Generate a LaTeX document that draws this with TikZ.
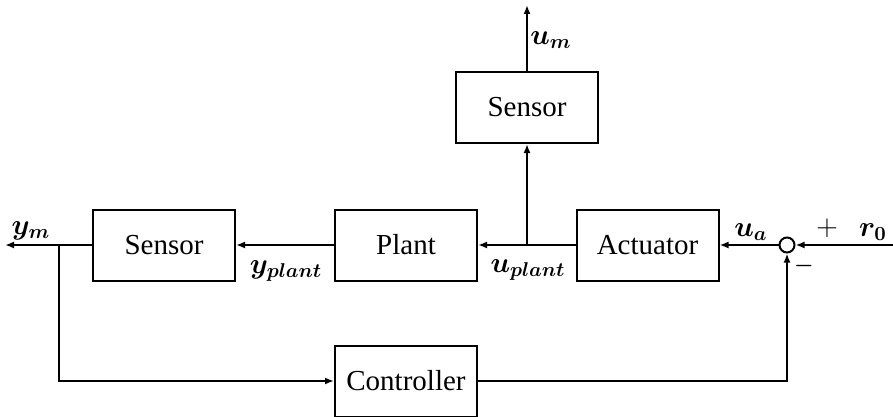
\documentclass[tikz,border=0pt]{standalone}
\usepackage{fontspec}
\setmainfont{Liberation Serif}
\usepackage{bm}
\usetikzlibrary{arrows.meta}
\begin{document}
\begin{tikzpicture}[x=0.5pt,y=-0.5pt,
  blk/.style={draw,line width=1pt,minimum width=71pt,minimum height=35.5pt,inner sep=0pt,font=\fontsize{14.5}{16}\selectfont},
  sig/.style={line width=1.1pt,-{Latex[length=4.5pt,width=3.5pt]}},
  lbl/.style={inner sep=0pt,font=\fontsize{14.4}{16}\selectfont}]
\useasboundingbox (0,0) rectangle (893,417);
\node[blk] (s1) at (164,245) {Sensor};
\node[blk] (pl) at (406,245) {Plant};
\node[blk] (ac) at (647.5,245) {Actuator};
\node[blk] (s2) at (527,107.5) {Sensor};
\node[blk] (ct) at (406,381) {Controller};
\node[draw,circle,line width=1pt,minimum size=7.5pt,inner sep=0pt] (sum) at (787,245) {};
\coordinate (yend) at (5,245);
\coordinate (bl) at (59,245);
\coordinate (bu) at (527,245);
\coordinate (uend) at (527,5);
\coordinate (rin) at (893,245);
\draw[sig] (rin) -- (sum);
\draw[sig] (sum) -- (ac);
\draw[sig] (ac) -- (pl);
\draw[sig] (bu) -- (s2);
\draw[sig] (s2) -- (uend);
\draw[sig] (pl) -- (s1);
\draw[sig] (s1) -- (yend);
\draw[sig] (bl) |- (ct);
\draw[sig] (ct) -| (sum);
\node[lbl] (lym) at (31,231) {$\bm{y_m}$};
\node[lbl] (lyp) at (286,271) {$\bm{y_{plant}}$};
\node[lbl] (lup) at (528,270) {$\bm{u_{plant}}$};
\node[lbl] (lum) at (551,40) {$\bm{u_m}$};
\node[lbl] (lua) at (751,232) {$\bm{u_a}$};
\node[inner sep=0pt,font=\fontsize{15}{16}\selectfont] (lp) at (827,228) {$+$};
\node[lbl] (lr) at (873,232) {$\bm{r_0}$};
\node[inner sep=0pt,font=\fontsize{11}{12}\selectfont] (lm) at (804,266) {$\bm{-}$};
\end{tikzpicture}
\end{document}
